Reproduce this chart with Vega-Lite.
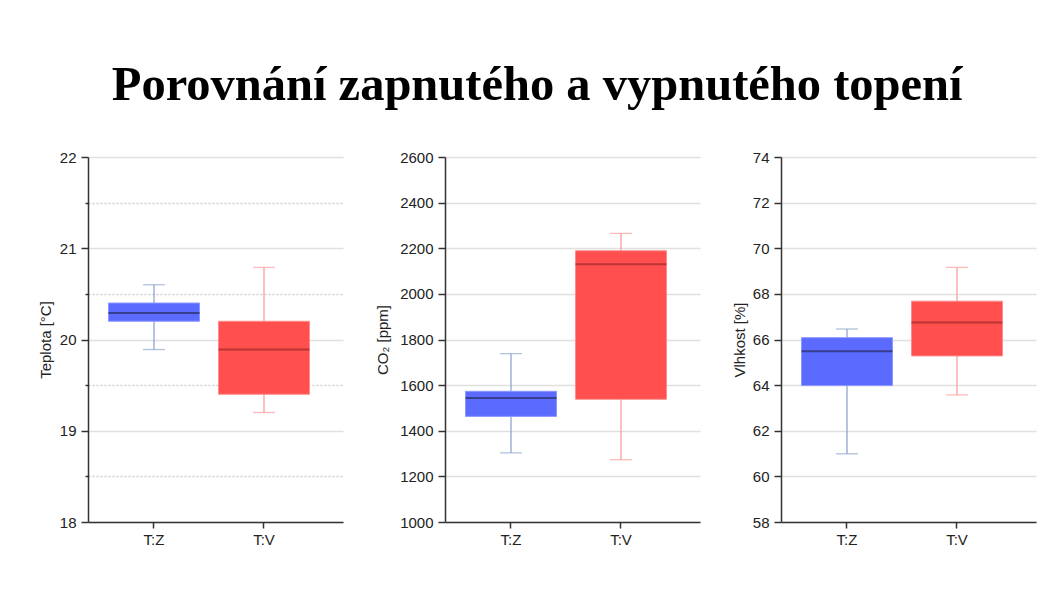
{
  "$schema": "https://vega.github.io/schema/vega-lite/v6.json",
  "background": "white",
  "padding": {"left": 38, "top": 60, "right": 10, "bottom": 10},
  "title": {"text": "Porovnání zapnutého a vypnutého topení", "font": "Liberation Serif", "fontSize": 48.5, "fontWeight": "bold", "color": "#000000", "anchor": "middle", "offset": 40},
  "datasets": {
    "stats": [
      {"var": "T", "group": "T:Z", "lo": 19.89, "q1": 20.2, "med": 20.29, "q3": 20.4, "hi": 20.6},
      {"var": "T", "group": "T:V", "lo": 19.2, "q1": 19.4, "med": 19.89, "q3": 20.2, "hi": 20.79},
      {"var": "C", "group": "T:Z", "lo": 1303, "q1": 1463, "med": 1544, "q3": 1573, "hi": 1738},
      {"var": "C", "group": "T:V", "lo": 1273, "q1": 1538, "med": 2130, "q3": 2189, "hi": 2265},
      {"var": "H", "group": "T:Z", "lo": 60.99, "q1": 63.98, "med": 65.48, "q3": 66.08, "hi": 66.46},
      {"var": "H", "group": "T:V", "lo": 63.57, "q1": 65.28, "med": 66.74, "q3": 67.68, "hi": 69.16}
    ]
  },
  "spacing": 32,
  "hconcat": [
    {
      "width": 255, "height": 365,
      "data": {"name": "stats"},
      "transform": [{"filter": "datum.var === 'T'"}],
      "encoding": {"x": {"field": "group", "type": "nominal", "sort": ["T:Z", "T:V"], "scale": {"paddingInner": 0, "paddingOuter": 0.159, "align": 0.314}, "axis": {"title": null, "labelAngle": 0}}},
      "layer": [
        {"mark": {"type": "rule", "strokeWidth": 1.3}, "encoding": {
          "y": {"field": "lo", "type": "quantitative", "scale": {"domain": [18, 22], "nice": false, "zero": false}, "axis": {"title": "Teplota [°C]", "titlePadding": 6, "values": [18, 18.5, 19, 19.5, 20, 20.5, 21, 21.5, 22], "labelExpr": "datum.value % 1 === 0 ? format(datum.value, 'd') : ''", "gridDash": {"condition": {"test": "datum.value % 1 !== 0", "value": [2, 2]}, "value": []}, "gridColor": {"condition": {"test": "datum.value % 1 !== 0", "value": "#cccccc"}, "value": "#e0e0e0"}, "tickSize": {"condition": {"test": "datum.value % 1 !== 0", "value": 3}, "value": 7}}},
          "y2": {"field": "hi"},
          "color": {"condition": {"test": "datum.group === 'T:Z'", "value": "#8ea6cc"}, "value": "#ff9c9c"}}},
        {"mark": {"type": "tick", "size": 22, "thickness": 1.3}, "encoding": {"y": {"field": "lo", "type": "quantitative"}, "color": {"condition": {"test": "datum.group === 'T:Z'", "value": "#8ea6cc"}, "value": "#ff9c9c"}}},
        {"mark": {"type": "tick", "size": 22, "thickness": 1.3}, "encoding": {"y": {"field": "hi", "type": "quantitative"}, "color": {"condition": {"test": "datum.group === 'T:Z'", "value": "#8ea6cc"}, "value": "#ff9c9c"}}},
        {"mark": {"type": "bar", "size": 91, "strokeWidth": 1}, "encoding": {"y": {"field": "q1", "type": "quantitative"}, "y2": {"field": "q3"}, "fill": {"condition": {"test": "datum.group === 'T:Z'", "value": "#5c6bff"}, "value": "#ff4f4f"}, "stroke": {"condition": {"test": "datum.group === 'T:Z'", "value": "#8c98ff"}, "value": "#ff8c8c"}, "fillOpacity": {"value": 1}}},
        {"mark": {"type": "tick", "size": 91, "thickness": 2}, "encoding": {"y": {"field": "med", "type": "quantitative"}, "color": {"condition": {"test": "datum.group === 'T:Z'", "value": "#272b5e"}, "value": "#9e2b2b"}}}
      ]
    },
    {
      "width": 255, "height": 365,
      "data": {"name": "stats"},
      "transform": [{"filter": "datum.var === 'C'"}],
      "encoding": {"x": {"field": "group", "type": "nominal", "sort": ["T:Z", "T:V"], "scale": {"paddingInner": 0, "paddingOuter": 0.159, "align": 0.314}, "axis": {"title": null, "labelAngle": 0}}},
      "layer": [
        {"mark": {"type": "rule", "strokeWidth": 1.3}, "encoding": {
          "y": {"field": "lo", "type": "quantitative", "scale": {"domain": [1000, 2600], "nice": false, "zero": false}, "axis": {"title": "CO₂ [ppm]", "titlePadding": 9, "values": [1000, 1200, 1400, 1600, 1800, 2000, 2200, 2400, 2600], "format": "d"}},
          "y2": {"field": "hi"},
          "color": {"condition": {"test": "datum.group === 'T:Z'", "value": "#8ea6cc"}, "value": "#ff9c9c"}}},
        {"mark": {"type": "tick", "size": 22, "thickness": 1.3}, "encoding": {"y": {"field": "lo", "type": "quantitative"}, "color": {"condition": {"test": "datum.group === 'T:Z'", "value": "#8ea6cc"}, "value": "#ff9c9c"}}},
        {"mark": {"type": "tick", "size": 22, "thickness": 1.3}, "encoding": {"y": {"field": "hi", "type": "quantitative"}, "color": {"condition": {"test": "datum.group === 'T:Z'", "value": "#8ea6cc"}, "value": "#ff9c9c"}}},
        {"mark": {"type": "bar", "size": 91, "strokeWidth": 1}, "encoding": {"y": {"field": "q1", "type": "quantitative"}, "y2": {"field": "q3"}, "fill": {"condition": {"test": "datum.group === 'T:Z'", "value": "#5c6bff"}, "value": "#ff4f4f"}, "stroke": {"condition": {"test": "datum.group === 'T:Z'", "value": "#8c98ff"}, "value": "#ff8c8c"}, "fillOpacity": {"value": 1}}},
        {"mark": {"type": "tick", "size": 91, "thickness": 2}, "encoding": {"y": {"field": "med", "type": "quantitative"}, "color": {"condition": {"test": "datum.group === 'T:Z'", "value": "#272b5e"}, "value": "#9e2b2b"}}}
      ]
    },
    {
      "width": 255, "height": 365,
      "data": {"name": "stats"},
      "transform": [{"filter": "datum.var === 'H'"}],
      "encoding": {"x": {"field": "group", "type": "nominal", "sort": ["T:Z", "T:V"], "scale": {"paddingInner": 0, "paddingOuter": 0.159, "align": 0.314}, "axis": {"title": null, "labelAngle": 0}}},
      "layer": [
        {"mark": {"type": "rule", "strokeWidth": 1.3}, "encoding": {
          "y": {"field": "lo", "type": "quantitative", "scale": {"domain": [58, 74], "nice": false, "zero": false}, "axis": {"title": "Vlhkost [%]", "titlePadding": 5, "values": [58, 60, 62, 64, 66, 68, 70, 72, 74], "format": "d"}},
          "y2": {"field": "hi"},
          "color": {"condition": {"test": "datum.group === 'T:Z'", "value": "#8ea6cc"}, "value": "#ff9c9c"}}},
        {"mark": {"type": "tick", "size": 22, "thickness": 1.3}, "encoding": {"y": {"field": "lo", "type": "quantitative"}, "color": {"condition": {"test": "datum.group === 'T:Z'", "value": "#8ea6cc"}, "value": "#ff9c9c"}}},
        {"mark": {"type": "tick", "size": 22, "thickness": 1.3}, "encoding": {"y": {"field": "hi", "type": "quantitative"}, "color": {"condition": {"test": "datum.group === 'T:Z'", "value": "#8ea6cc"}, "value": "#ff9c9c"}}},
        {"mark": {"type": "bar", "size": 91, "strokeWidth": 1}, "encoding": {"y": {"field": "q1", "type": "quantitative"}, "y2": {"field": "q3"}, "fill": {"condition": {"test": "datum.group === 'T:Z'", "value": "#5c6bff"}, "value": "#ff4f4f"}, "stroke": {"condition": {"test": "datum.group === 'T:Z'", "value": "#8c98ff"}, "value": "#ff8c8c"}, "fillOpacity": {"value": 1}}},
        {"mark": {"type": "tick", "size": 91, "thickness": 2}, "encoding": {"y": {"field": "med", "type": "quantitative"}, "color": {"condition": {"test": "datum.group === 'T:Z'", "value": "#272b5e"}, "value": "#9e2b2b"}}}
      ]
    }
  ],
  "config": {
    "view": {"stroke": null},
    "axis": {"domainColor": "#333333", "domainWidth": 1.5, "tickColor": "#333333", "tickWidth": 1.5, "labelFont": "Liberation Sans", "labelFontSize": 15, "labelColor": "#222222", "titleFont": "Liberation Sans", "titleFontSize": 15, "titleFontWeight": "normal", "titleColor": "#222222"},
    "axisY": {"tickSize": 7, "labelPadding": 5, "grid": true, "gridColor": "#e0e0e0", "gridWidth": 1.5},
    "axisX": {"tickSize": 6, "labelPadding": 4, "grid": false}
  }
}
